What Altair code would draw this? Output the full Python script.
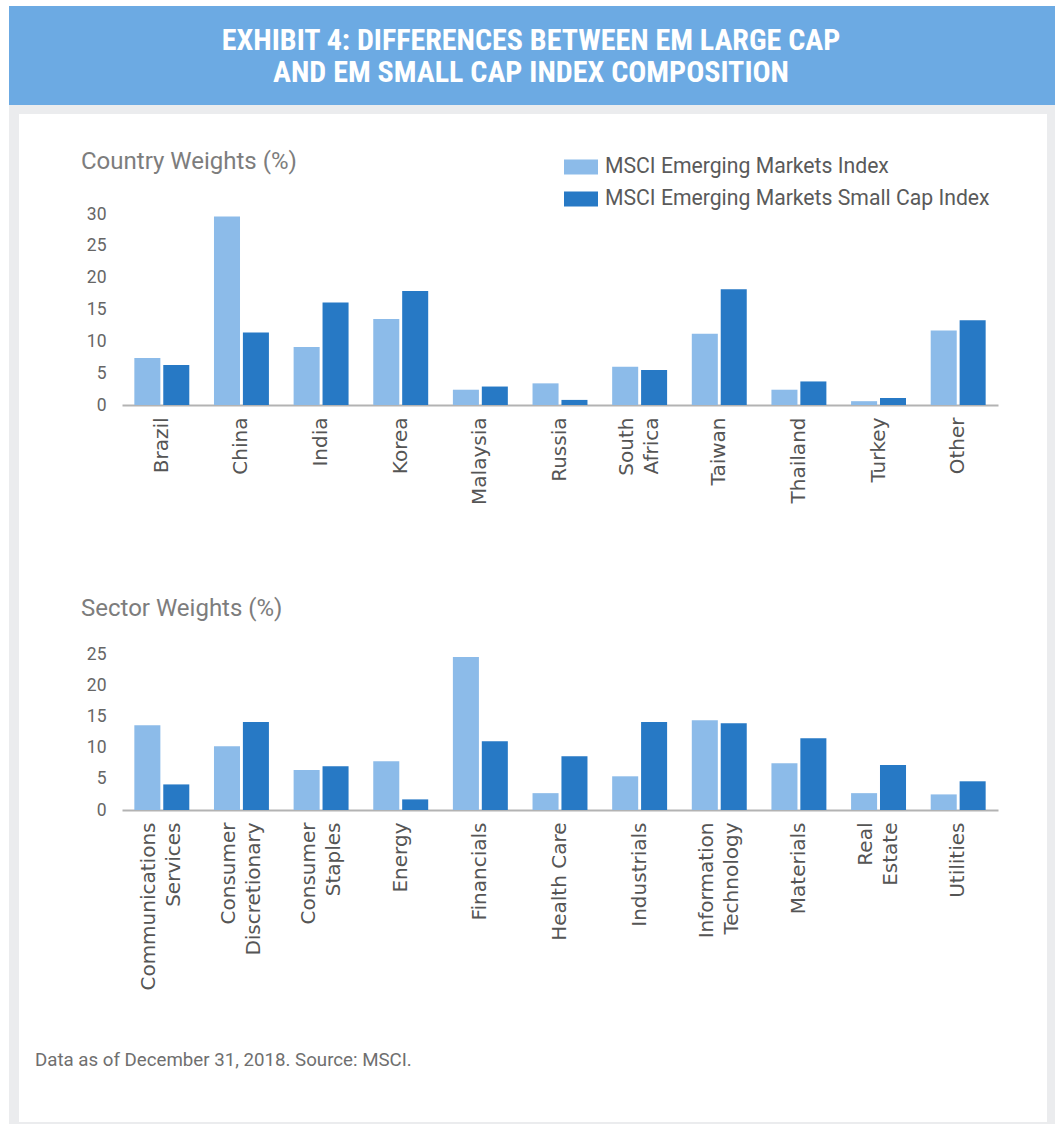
import altair as alt
import pandas as pd

# ---- data -------------------------------------------------------------
SERIES = ["MSCI Emerging Markets Index", "MSCI Emerging Markets Small Cap Index"]
SERIES_COLORS = ["#8CBBE9", "#2779C5"]

COUNTRIES = ["Brazil", "China", "India", "Korea", "Malaysia", "Russia",
             "South Africa", "Taiwan", "Thailand", "Turkey", "Other"]
EM_COUNTRY = [7.4, 29.6, 9.1, 13.5, 2.4, 3.4, 6.0, 11.2, 2.4, 0.6, 11.7]
SC_COUNTRY = [6.3, 11.4, 16.1, 17.9, 2.9, 0.8, 5.5, 18.2, 3.7, 1.1, 13.3]

SECTORS = ["Communications Services", "Consumer Discretionary", "Consumer Staples",
           "Energy", "Financials", "Health Care", "Industrials",
           "Information Technology", "Materials", "Real Estate", "Utilities"]
EM_SECTOR = [13.6, 10.2, 6.4, 7.8, 24.5, 2.7, 5.4, 14.4, 7.5, 2.7, 2.5]
SC_SECTOR = [4.1, 14.1, 7.0, 1.7, 11.0, 8.6, 14.1, 13.9, 11.5, 7.2, 4.6]

# category names printed on two lines under the axis
TWO_LINE_LABELS = ["South Africa", "Communications Services", "Consumer Discretionary",
                   "Consumer Staples", "Information Technology", "Real Estate"]

HEADER_LINES = ["EXHIBIT 4: DIFFERENCES BETWEEN EM LARGE CAP",
                "AND EM SMALL CAP INDEX COMPOSITION"]
SECTION_TITLES = ["Country Weights (%)", "Sector Weights (%)"]
FOOTNOTE = "Data as of December 31, 2018. Source: MSCI."

COUNTRY_TICKS = [0, 5, 10, 15, 20, 25, 30]
SECTOR_TICKS = [0, 5, 10, 15, 20, 25]

# ---- layout -----------------------------------------------------------
PLOT_W = 876
COUNTRY_H = 191
SECTOR_H = 156
GAP = 249            # between the two bar panels
PLOT_LEFT = 122
COUNTRY_TOP = 214
DECO_H = 1           # decoration cell sits at the very top of the page
LABEL_LINE_H = 25

NUM_FONT = "Roboto"
LABEL_FONT = "DejaVu Sans"
TITLE_GRAY = "#7d7d7d"


def px(x):
    return x - PLOT_LEFT


def py(y):
    return y


def long_table(cats, a, b, key):
    rows = []
    for c, va, vb in zip(cats, a, b):
        rows.append({key: c, "series": SERIES[0], "value": va})
        rows.append({key: c, "series": SERIES[1], "value": vb})
    return pd.DataFrame(rows)


country_df = long_table(COUNTRIES, EM_COUNTRY, SC_COUNTRY, "category")
sector_df = long_table(SECTORS, EM_SECTOR, SC_SECTOR, "category")

split_list = "[" + ",".join("'" + s + "'" for s in TWO_LINE_LABELS) + "]"
is_two_line = f"indexof({split_list}, datum.value) >= 0"
label_expr = f"indexof({split_list}, datum.label) >= 0 ? split(datum.label, ' ') : datum.label"
# two-line labels are shifted so that the pair of lines is centred on its group
label_shift = alt.condition(is_two_line, alt.value(-LABEL_LINE_H / 2), alt.value(0))

color_scale = alt.Scale(domain=SERIES, range=SERIES_COLORS)


def bar_chart(df, cats, ticks, height, legend):
    return alt.Chart(df).mark_bar().encode(
        x=alt.X("category:N", sort=cats, title=None,
                scale=alt.Scale(paddingInner=0.31, paddingOuter=0.155),
                axis=alt.Axis(labelAngle=270, labelAlign="right", labelBaseline="middle",
                              labelFont=LABEL_FONT, labelFontSize=20, labelColor="#555555",
                              labelPadding=12, labelLineHeight=LABEL_LINE_H,
                              labelExpr=label_expr, labelOffset=label_shift,
                              ticks=False, domainColor="#b3b3b3", domainWidth=2,
                              labelOverlap=False, labelLimit=400)),
        xOffset=alt.XOffset("series:N", sort=SERIES,
                            scale=alt.Scale(paddingInner=0.1, paddingOuter=0)),
        y=alt.Y("value:Q", title=None,
                scale=alt.Scale(domain=[ticks[0], ticks[-1]], nice=False),
                axis=alt.Axis(values=ticks, grid=False, domain=False, ticks=False,
                              labelFont=NUM_FONT, labelFontSize=17.5, labelColor="#666666",
                              labelPadding=16)),
        color=alt.Color("series:N", scale=color_scale, sort=SERIES, title=None,
                        legend=legend),
    ).properties(width=PLOT_W, height=height)


country_legend = alt.Legend(
    orient="none", legendX=px(564), legendY=150 - COUNTRY_TOP, direction="vertical",
    symbolType="M-1,-0.44H1V0.44H-1Z", symbolSize=34 * 34, symbolStrokeWidth=0,
    symbolOpacity=1, labelFont=NUM_FONT, labelFontSize=21.2, labelColor="#5a5a5a",
    labelOffset=7, rowPadding=4, padding=0, labelLimit=500,
)

country_chart = bar_chart(country_df, COUNTRIES, COUNTRY_TICKS, COUNTRY_H, country_legend)
sector_chart = bar_chart(sector_df, SECTORS, SECTOR_TICKS, SECTOR_H, None)

# ---- page frame, header and notes -------------------------------------
one = pd.DataFrame({"k": [0]})


def box(x0, y0, x1, y1, color):
    return alt.Chart(one).mark_rect(color=color, strokeWidth=0).encode(
        x=alt.value(px(x0)), x2=alt.value(px(x1)),
        y=alt.value(py(y0)), y2=alt.value(py(y1)))


page = box(0, 0, 1057, 1124, "#ffffff")
frame = box(9, 105, 1055, 1124, "#EBECEE")
panel = box(19, 114, 1047, 1122, "#ffffff")
header = box(9, 6, 1055, 105, "#6CAAE3")

header_text = alt.Chart(pd.DataFrame({"t": ["\n".join(HEADER_LINES)]})).mark_text(
    font="Liberation Sans Narrow, Roboto Condensed, Roboto, sans-serif", fontWeight="bold",
    fontSize=30, color="#ffffff", align="center", baseline="middle",
    lineBreak="\n", lineHeight=32,
).encode(text="t:N", x=alt.value(px(531)), y=alt.value(py(41)))

titles_df = pd.DataFrame({"t": SECTION_TITLES})
country_title = alt.Chart(titles_df.iloc[[0]]).mark_text(
    font=NUM_FONT, fontSize=24, color=TITLE_GRAY, align="left", baseline="alphabetic",
).encode(text="t:N", x=alt.value(px(81)), y=alt.value(py(169)))
sector_title = alt.Chart(titles_df.iloc[[1]]).mark_text(
    font=NUM_FONT, fontSize=24, color=TITLE_GRAY, align="left", baseline="alphabetic",
).encode(text="t:N", x=alt.value(px(81)), y=alt.value(py(616)))

footnote = alt.Chart(pd.DataFrame({"t": [FOOTNOTE]})).mark_text(
    font=NUM_FONT, fontSize=18.7, color="#6f6f6f", align="left", baseline="alphabetic",
).encode(text="t:N", x=alt.value(px(35)), y=alt.value(py(1066)))

deco = alt.layer(page, frame, panel, header, header_text, country_title,
                 sector_title, footnote).properties(width=PLOT_W, height=DECO_H)

panels = alt.vconcat(
    country_chart, sector_chart, spacing=GAP, bounds="flush"
).resolve_scale(color="independent")

chart = alt.vconcat(
    deco, panels, spacing=COUNTRY_TOP - DECO_H, bounds="flush"
).properties(
    padding=0, background="#ffffff"
).configure_view(
    stroke=None
)

chart.save("out.html", embed_options={"renderer": "svg", "actions": False})
